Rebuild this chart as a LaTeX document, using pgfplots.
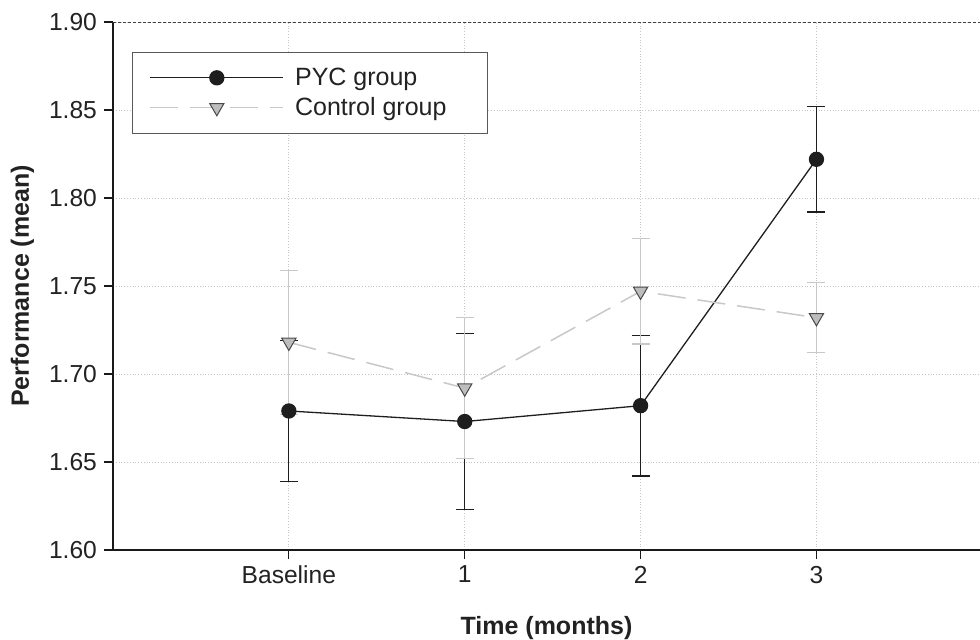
\documentclass[border=0pt]{standalone}
\usepackage{pgfplots}
\pgfplotsset{compat=1.18}
\usepackage{fontspec}
\setmainfont{Liberation Sans}
\definecolor{pyc}{HTML}{1E1E1E}
\definecolor{ctrl}{HTML}{C8C8C8}
\definecolor{ctrlfill}{HTML}{BDBDBD}
\definecolor{ctrledge}{HTML}{4A4A4A}
\definecolor{txt}{HTML}{222222}
\begin{document}
\begin{tikzpicture}
\begin{axis}[
  name=main,
  scale only axis, width=433.5pt, height=264pt,
  xmin=-1, xmax=3.93, ymin=1.60, ymax=1.90,
  axis x line*=bottom, axis y line*=left,
  axis line style={line width=0.6pt, -, black!90},
  xtick={0,1,2,3}, xticklabels={Baseline,1,2,3},
  ytick={1.60,1.65,1.70,1.75,1.80,1.85,1.90},
  yticklabel style={/pgf/number format/.cd, fixed, fixed zerofill, precision=2},
  /pgf/number format/assume math mode=true,
  tick style={black!90, line width=0.6pt}, major tick length=4.5pt, tick align=outside,
  grid=major, grid style={densely dotted, gray!45, line width=0.5pt},
  ticklabel style={font=\fontsize{12.3}{14}\selectfont, text=txt},
  xlabel={Time (months)}, ylabel={Performance (mean)},
  label style={font=\bfseries\fontsize{12.5}{14}\selectfont, text=txt},
  xlabel style={at={(rel axis cs:0.5,0)}, anchor=base, yshift=-42pt},
  ylabel style={at={(rel axis cs:0,0.5)}, anchor=base, yshift=42pt},
  clip=false,
  legend style={at={(0.0219,0.9432)}, anchor=north west, draw=black!65, line width=0.6pt,
    font=\fontsize{12.5}{14}\selectfont, text=txt, inner xsep=8.5pt, inner ysep=5.5pt,
    row sep=0.5pt, column sep=3.5pt},
  legend cell align=left,
  legend image code/.code={
    \draw[mark repeat=2, mark phase=2, #1] plot coordinates {(0pt,0pt) (33.25pt,0pt) (66.5pt,0pt)};
  },
]
\draw[dash pattern=on 1.5pt off 1pt, black!75, line width=0.5pt] (rel axis cs:0,1) -- (rel axis cs:1,1);

\addplot[color=pyc, line width=0.65pt, mark=*, mark size=3.5pt,
  mark options={fill=pyc, draw=pyc, solid},
  error bars/.cd, y dir=both, y explicit,
  error bar style={color=pyc, line width=0.6pt},
  error mark options={rotate=90, mark size=4.5pt, color=pyc, line width=0.6pt}]
  coordinates {
  (0,1.679) +- (0,0.040)
  (1,1.673) +- (0,0.050)
  (2,1.682) +- (0,0.040)
  (3,1.822) +- (0,0.030)
  };
\addlegendentry{PYC group}

\addplot[color=ctrl, line width=0.75pt, dash pattern=on 14pt off 6pt,
  mark=triangle*, mark size=4.1pt,
  mark options={rotate=180, fill=ctrlfill, draw=ctrledge, solid, line width=0.5pt},
  error bars/.cd, y dir=both, y explicit,
  error bar style={color=ctrl, line width=0.6pt, solid},
  error mark options={rotate=90, mark size=4.5pt, color=ctrl, line width=0.6pt, solid}]
  coordinates {
  (0,1.718) +- (0,0.041)
  (1,1.692) +- (0,0.040)
  (2,1.747) +- (0,0.030)
  (3,1.732) +- (0,0.020)
  };
\addlegendentry{Control group\makebox[10pt]{}}
\end{axis}
\pgfresetboundingbox
\path ([xshift=-56.5pt,yshift=-44.5pt]main.south west) rectangle ++(490pt,319.5pt);
\end{tikzpicture}
\end{document}
